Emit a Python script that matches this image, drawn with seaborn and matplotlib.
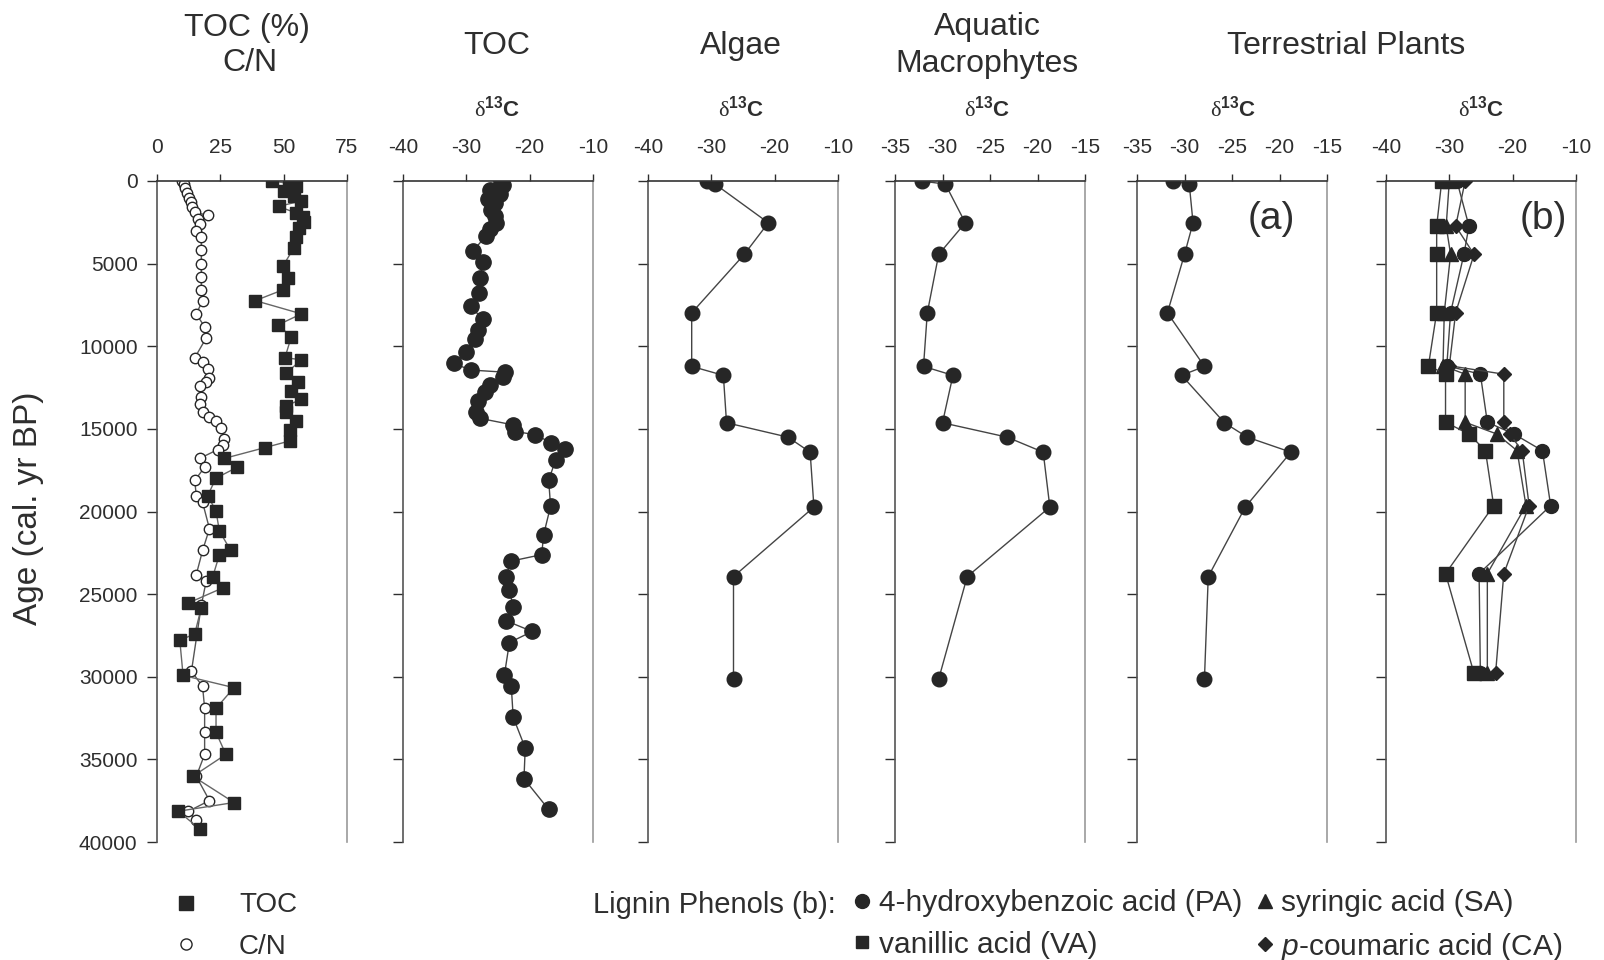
import matplotlib
matplotlib.use("Agg")
import matplotlib.pyplot as plt
from matplotlib.lines import Line2D
import seaborn as sns

# ---- data ----
toc_age = [0, 150, 300, 600, 900, 1200, 1540, 1940, 2200, 2500, 2860, 3400, 4060, 5120, 5900,
           6580, 7240, 8040, 8700, 9440, 10690, 10820, 11620, 12150, 12680, 13210, 13600, 14000,
           14540, 15070, 15730, 16130, 16790, 17320, 17980, 19040, 19970, 21170, 22360, 22630,
           23950, 24620, 25540, 25810, 27400, 27800, 29920, 30660, 31910, 33370, 34700, 36020,
           37610, 38140, 39200]
toc_pct = [45.5, 52, 55, 50, 54, 57, 48, 55, 57.6, 58, 56, 55, 54, 49.8, 51.7,
           49.8, 38.8, 57, 47.9, 53, 50.5, 57, 51, 55.6, 53, 57, 51, 51,
           55, 52.4, 52.4, 42.7, 26.5, 31.7, 23.3, 20, 23.3, 24.6, 29.1, 24.6,
           22, 26, 12.3, 17.5, 14.9, 9, 10.3, 30.4, 23.3, 23.3, 27.2, 14.2,
           30.4, 8.4, 16.8]

cn_age = [0, 200, 400, 700, 1000, 1300, 1600, 1900, 2070, 2300, 2600, 3000, 3400, 4200, 5000,
          5800, 6600, 7240, 8040, 8830, 9500, 10700, 10960, 11350, 11900, 12150, 12400, 13080,
          13480, 14000, 14270, 14540, 14940, 15600, 16000, 16260, 16790, 17320, 18120, 19040,
          19450, 21040, 22360, 23820, 24220, 25680, 29660, 30590, 31920, 33370, 34700, 36030,
          37490, 38150, 38680]
cn_ratio = [10, 10.5, 11, 12, 12.5, 13.5, 14, 15, 20, 16, 17, 15.5, 17.5, 17.5, 17.5,
            17.5, 17.5, 18, 15.5, 18.8, 19.4, 14.9, 18, 20, 20.7, 19.4, 16.8, 17.5,
            16.8, 18, 20.7, 23.3, 25.2, 26.5, 25.9, 23.9, 16.8, 18.8, 14.9, 15.5,
            18, 20.7, 18, 15.5, 19.4, 17.5, 13.6, 18, 18.8, 18.8, 18.8, 15.5,
            20.7, 12.3, 15.5]

toc_d13c_age = [0, 270, 530, 800, 1060, 1330, 1730, 2130, 2530, 2930, 3320, 4260, 4920, 5850,
                6780, 7580, 8380, 9040, 9570, 10370, 11040, 11440, 11570, 11840, 12370, 12770,
                13300, 13960, 14360, 14760, 15160, 15350, 15830, 16220, 16890, 18090, 19680,
                21410, 22610, 23000, 23940, 24730, 25800, 26600, 27260, 27930, 29920, 30590,
                32450, 34310, 36170, 38030]
toc_d13c = [-24.5, -24.2, -26.3, -24.7, -26.6, -25.5, -26.1, -25.5, -25.3, -26.3, -26.9, -29.0,
            -27.4, -27.8, -28.0, -29.3, -27.4, -28.2, -28.6, -30.1, -32.0, -29.3, -23.9, -24.2,
            -26.3, -27.1, -28.2, -28.4, -27.9, -22.6, -22.3, -19.1, -16.7, -14.4, -15.9, -17.0,
            -16.7, -17.8, -18.1, -22.9, -23.8, -23.2, -22.6, -23.8, -19.6, -23.2, -24.0, -22.9,
            -22.6, -20.7, -20.9, -17.0]

marker_age = [0, 190, 2530, 4440, 7980, 11220, 11760, 14630, 15500, 16410, 19730, 23940, 30130]
algae = [-30.7, -29.4, -21.0, -24.8, -33.1, -33.1, -28.1, -27.6, -17.9, -14.4, -13.8, -26.5, -26.5]
aquatic = [-32.2, -29.7, -27.6, -30.4, -31.6, -32.0, -28.9, -30.0, -23.2, -19.4, -18.7, -27.4, -30.4]
terrestrial = [-31.2, -29.5, -29.1, -30.0, -31.8, -27.9, -30.3, -25.8, -23.4, -18.8, -23.6, -27.5, -27.9]

lignin_age = [0, 2730, 4440, 7960, 11180, 11690, 14600, 15310, 16320, 19640, 23760, 29800]
pa = [-28.8, -26.9, -27.7, -29.8, -30.4, -25.1, -24.0, -19.8, -15.3, -14.0, -25.3, -25.1]
va = [-31.2, -32.0, -32.0, -32.0, -33.3, -30.6, -30.6, -26.9, -24.3, -23.0, -30.6, -26.1]
sa = [-30.0, -30.5, -29.8, -30.8, -31.0, -27.5, -27.5, -22.5, -19.3, -17.9, -24.0, -24.0]
ca = [-27.5, -29.0, -26.1, -29.0, -30.0, -21.4, -21.4, -20.5, -18.5, -17.4, -21.4, -22.7]

xlims = [(0, 75), (-40, -10), (-40, -10), (-35, -15), (-35, -15), (-40, -10)]
xticks = [[0, 25, 50, 75], [-40, -30, -20, -10], [-40, -30, -20, -10],
          [-35, -30, -25, -20, -15], [-35, -30, -25, -20, -15], [-40, -30, -20, -10]]

# ---- style ----
sns.set_style("ticks")
plt.rcParams["font.family"] = ["Liberation Sans", "DejaVu Sans"]
plt.rcParams["axes.unicode_minus"] = False
plt.rcParams["mathtext.fontset"] = "custom"
plt.rcParams["mathtext.rm"] = "Liberation Serif"
plt.rcParams["mathtext.bf"] = "Liberation Sans:bold"
plt.rcParams["mathtext.it"] = "Liberation Sans:italic"

W, H = 1604, 960
TOP, BOT = 181, 842
lefts = [157, 403, 648, 895, 1137, 1386]
pw = 190
ink = "#262626"
txt = "#2e2e2e"

fig = plt.figure(figsize=(W / 100, H / 100), dpi=100)
axes = [fig.add_axes([l / W, 1 - BOT / H, pw / W, (BOT - TOP) / H]) for l in lefts]


def profile(ax, x, y, marker, ms, mfc=ink, lc="#444444"):
    sns.lineplot(x=x, y=y, ax=ax, sort=False, estimator=None, color=lc, linewidth=1.0,
                 marker=marker, markersize=ms, markerfacecolor=mfc, markeredgecolor=ink,
                 markeredgewidth=1.0)


# panel 1: TOC and C/N
profile(axes[0], cn_ratio, cn_age, "o", 7.5, mfc="white", lc="#555555")
profile(axes[0], toc_pct, toc_age, "s", 8.5, lc="#666666")
# panels 2-5: d13C
profile(axes[1], toc_d13c, toc_d13c_age, "o", 11)
profile(axes[2], algae, marker_age, "o", 10.5)
profile(axes[3], aquatic, marker_age, "o", 10.5)
profile(axes[4], terrestrial, marker_age, "o", 10.5)
# panel 6: lignin phenols
profile(axes[5], pa, lignin_age, "o", 10)
profile(axes[5], sa, lignin_age, "^", 10.5)
profile(axes[5], ca, lignin_age, "D", 7.5)
profile(axes[5], va, lignin_age, "s", 9.5)

for i, ax in enumerate(axes):
    ax.set_xlim(*xlims[i])
    ax.set_xticks(xticks[i])
    ax.set_ylim(40000, 0)
    ax.set_yticks(range(0, 40001, 5000))
    ax.set_xlabel("")
    ax.set_ylabel("")
    ax.xaxis.tick_top()
    ax.tick_params(axis="x", direction="out", length=5, width=1.0, pad=12,
                   labelsize=15, colors=txt)
    ax.tick_params(axis="y", direction="out", length=7, width=1.0, pad=7,
                   labelsize=15, colors=txt, labelleft=(i == 0))
    ax.spines["bottom"].set_visible(False)
    ax.spines["top"].set_color("#333333")
    ax.spines["left"].set_color("#555555")
    ax.spines["right"].set_color("#9a9a9a")
    for s in ["top", "left", "right"]:
        ax.spines[s].set_linewidth(1.2)
        ax.spines[s].set_visible(True)


def fx(x):
    return x / W


def fy(y):
    return 1 - y / H


# ---- titles ----
tsize = 23
fig.text(fx(247), fy(28), "TOC (%)", ha="center", va="center", fontsize=tsize, color=txt)
fig.text(fx(250), fy(63), "C/N", ha="center", va="center", fontsize=tsize, color=txt)
fig.text(fx(497), fy(46), "TOC", ha="center", va="center", fontsize=tsize, color=txt)
fig.text(fx(741), fy(46), "Algae", ha="center", va="center", fontsize=tsize, color=txt)
fig.text(fx(987), fy(27), "Aquatic", ha="center", va="center", fontsize=tsize, color=txt)
fig.text(fx(987), fy(64), "Macrophytes", ha="center", va="center", fontsize=tsize, color=txt)
fig.text(fx(1346), fy(46), "Terrestrial Plants", ha="center", va="center", fontsize=tsize, color=txt)

d13c = r"$\mathrm{\delta}^{\mathbf{13}}\mathbf{C}$"
for cx in [497, 741, 987, 1233, 1481]:
    fig.text(fx(cx), fy(109), d13c, ha="center", va="center", fontsize=16, color=txt)

fig.text(fx(1271), fy(219), "(a)", ha="center", va="center", fontsize=28, color=txt)
fig.text(fx(1543), fy(219), "(b)", ha="center", va="center", fontsize=28, color=txt)

fig.text(fx(29), fy(508), "Age (cal. yr BP)", rotation=90, ha="center", va="center",
         fontsize=24, color=txt)

# ---- legends ----
h_toc = [Line2D([], [], ls="none", marker="s", ms=10, color=ink),
         Line2D([], [], ls="none", marker="o", ms=8, mfc="white", mec=ink, mew=1.0)]
fig.legend(h_toc, ["TOC", "C/N"], loc="center left", bbox_to_anchor=(fx(175), fy(926)),
           frameon=False, fontsize=20, handlelength=0.8, handletextpad=1.5,
           borderpad=0, borderaxespad=0, labelspacing=0.55, labelcolor=txt)

h_lig = [Line2D([], [], ls="none", marker="o", ms=10, color=ink),
         Line2D([], [], ls="none", marker="s", ms=9, color=ink),
         Line2D([], [], ls="none", marker="^", ms=10, color=ink),
         Line2D([], [], ls="none", marker="D", ms=7, color=ink)]
lab_lig = ["4-hydroxybenzoic acid (PA)", "vanillic acid (VA)",
           "syringic acid (SA)", r"$\mathit{p}$-coumaric acid (CA)"]
fig.legend(h_lig, lab_lig, ncol=2, loc="center left", bbox_to_anchor=(fx(855), fy(926)),
           frameon=False, fontsize=21.5, handlelength=0.5, handletextpad=0.3,
           columnspacing=0.5, borderpad=0, borderaxespad=0, labelspacing=0.45, labelcolor=txt)
fig.text(fx(593), fy(905), "Lignin Phenols (b):", ha="left", va="center", fontsize=21,
         color=txt)

fig.savefig("out.png", dpi=100)
